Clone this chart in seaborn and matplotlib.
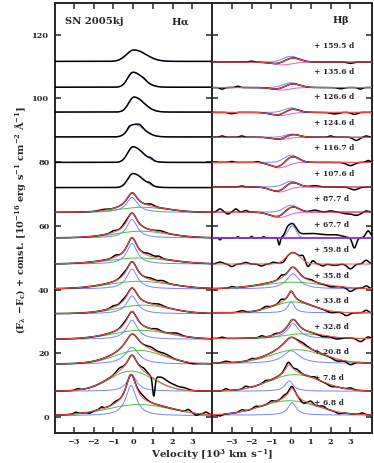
import numpy as np
import pandas as pd
import matplotlib
matplotlib.use("Agg")
import matplotlib.pyplot as plt
import seaborn as sns

# ---------------- data ----------------
epochs = ['+ 6.8 d', '+ 7.8 d', '+ 20.8 d', '+ 32.8 d', '+ 33.8 d', '+ 35.8 d',
          '+ 59.8 d', '+ 67.7 d', '+ 87.7 d', '+ 107.6 d', '+ 116.7 d',
          '+ 124.6 d', '+ 126.6 d', '+ 135.6 d', '+ 159.5 d']
offsets = [0, 8, 16, 24, 32, 40, 48, 56, 64, 72, 80, 88, 96, 104, 112]
ha_cont = [0.4, 8.1, 16.6, 24.4, 32.4, 40.2, 48.0, 56.2, 64.2, 72.0, 79.9, 87.9, 95.7, 103.5, 111.6]
hb_cont = [0.6, 8.1, 16.8, 24.6, 32.7, 40.2, 48.0, 56.2, 64.3, 72.2, 79.9, 87.8, 95.6, 103.4, 111.4]

# H-alpha narrow (blue) component: L = Lorentzian (HWHM), G = split Gaussian (sigma)
ha_nar_shape = ['L'] * 9 + ['G'] * 6
ha_nar_amp = [9.5, 5.0, 5.3, 6.0, 5.6, 6.2, 6.4, 5.8, 4.7, 4.4, 4.9, 3.9, 4.7, 4.7, 3.6]
ha_nar_cen = [-0.1, -0.05, -0.05, -0.05, -0.05, -0.05, -0.05, -0.05, -0.05, 0.0, 0.0, 0.05, 0.05, 0.0, 0.05]
ha_nar_wl = [0.32, 0.3, 0.42, 0.33, 0.33, 0.33, 0.32, 0.32, 0.34, 0.27, 0.27, 0.3, 0.27, 0.27, 0.38]
ha_nar_wr = [0.32, 0.3, 0.42, 0.33, 0.33, 0.33, 0.32, 0.32, 0.34, 0.5, 0.5, 0.5, 0.5, 0.5, 0.6]
# H-alpha broad (green) component
ha_brd_amp = [3.5, 6.3, 4.3, 2.8, 2.7, 2.4, 1.9, 2.1, 1.6, None, None, None, None, None, None]
ha_brd_cen = [0.3, -0.1, 0.3, 0.4, 0.5, 0.3, 0.3, 0.4, 0.5, 0, 0, 0, 0, 0, 0]
ha_brd_sig = [1.6, 1.1, 1.2, 1.4, 1.3, 1.5, 1.5, 1.3, 1.2, 1, 1, 1, 1, 1, 1]
# residual features of the observed H-alpha spectra (centre, amplitude, width)
ha_feat = [
    [(-2.9, 0.5, 0.08), (-2.2, -0.5, 0.1), (-1.6, 0.6, 0.08), (-0.9, 0.5, 0.12), (0.45, 0.8, 0.2),
     (2.8, 0.8, 0.1), (3.2, -0.6, 0.1), (3.7, 0.7, 0.1)],
    [(1.05, -6.0, 0.06), (1.45, 1.6, 0.25), (2.0, 1.0, 0.3), (2.6, 0.6, 0.2), (-2.8, 0.4, 0.1),
     (-0.7, 0.9, 0.15), (0.55, 0.9, 0.15)],
    [(0.9, 0.7, 0.2), (1.6, 0.6, 0.25), (3.0, -0.3, 0.2)],
    [(-0.45, 0.5, 0.15), (1.2, 0.5, 0.15), (2.2, 0.6, 0.2)],
    [(-1.0, 0.5, 0.12), (-0.5, 0.6, 0.15), (1.3, 0.5, 0.2)],
    [(-0.5, 0.6, 0.15), (0.9, 0.5, 0.2), (1.5, 0.6, 0.15)],
    [(-0.9, 0.6, 0.12), (0.8, 0.7, 0.2), (1.3, 0.6, 0.12)],
    [(-1.0, 0.5, 0.12), (-0.4, 0.6, 0.15), (1.4, 0.4, 0.2)],
    [(0.9, 0.6, 0.15), (-1.5, 0.3, 0.2)],
    [(0.85, 0.5, 0.1)],
    [(0.9, 0.5, 0.1)],
    [(-0.2, 0.5, 0.08), (0.35, 0.6, 0.12)],
    [],
    [(0.55, 0.3, 0.1)],
    [],
]

# H-beta narrow (blue) component
hb_nar_shape = ['L'] * 6 + [None] + ['G'] * 8
hb_nar_amp = [3.9, 3.2, 4.0, 4.7, 3.4, 4.7, None, 3.8, 2.2, 1.8, 2.3, 1.0, 1.4, 1.5, 1.8]
hb_nar_cen = [0.05, -0.1, 0.0, 0.1, 0.0, 0.1, 0.0, 0.05, 0.0, 0.0, 0.0, 0.05, 0.0, 0.0, 0.0]
hb_nar_w = [0.25, 0.25, 0.5, 0.35, 0.2, 0.4, 0.0, 0.2, 0.35, 0.35, 0.35, 0.35, 0.35, 0.4, 0.4]
# H-beta broad (green) component
hb_brd_amp = [4.5, 5.2, 4.3, 1.5, 3.4, 2.1] + [None] * 9
hb_brd_cen = [-0.1, 0.2, 0.3, 0.6, 0.1, 0.1] + [0] * 9
hb_brd_sig = [1.4, 1.3, 1.3, 1.0, 1.0, 1.5] + [1] * 9
# H-beta absorption (magenta) component
hb_abs_amp = [None] * 7 + [0.0, -1.7, -1.6, -1.7, -0.7, -1.0, -0.8, -0.9]
hb_abs_cen = [0] * 7 + [0.0, -0.6, -0.6, -0.6, -0.55, -0.55, -0.5, -0.45]
hb_abs_sig = [1] * 7 + [1.0, 0.45, 0.42, 0.42, 0.4, 0.45, 0.45, 0.5]
# single emission fitted at +59.8 d (red only)
hb_single = (3.6, 0.1, 0.35)
hb_feat = [
    [(-3.6, -0.5, 0.1), (-2.5, 0.6, 0.1), (-1.8, 0.5, 0.1), (-1.0, 0.6, 0.1), (-0.35, 0.7, 0.12),
     (0.0, 0.6, 0.12), (0.6, -0.8, 0.12), (1.0, 0.8, 0.1), (1.6, 0.6, 0.12), (2.4, -0.5, 0.12), (3.6, 0.5, 0.1)],
    [(-3.3, 0.6, 0.1), (-2.3, 0.7, 0.1), (-1.3, 0.5, 0.1), (-0.2, 1.0, 0.12), (0.3, 0.8, 0.12),
     (1.2, 0.5, 0.1), (2.0, -0.5, 0.15), (3.0, 0.5, 0.12)],
    [(-3.3, 0.5, 0.15), (-2.0, 0.4, 0.1), (0.6, 0.6, 0.2), (2.3, -0.7, 0.2), (3.0, -1.0, 0.15)],
    [(-3.5, 0.4, 0.1), (-1.5, 0.5, 0.1), (-0.8, 0.4, 0.1), (1.6, -0.5, 0.2), (2.3, -0.6, 0.2),
     (3.5, -1.0, 0.15), (3.9, 0.5, 0.1)],
    [(-2.5, 0.5, 0.15), (-1.3, 0.6, 0.12), (-0.5, 0.9, 0.1), (2.0, -0.5, 0.2), (2.8, -1.0, 0.15), (3.8, 0.8, 0.1)],
    [(-3.0, 0.4, 0.1), (-0.5, 0.9, 0.1), (1.0, 0.4, 0.15), (2.0, -0.5, 0.2), (3.0, -1.2, 0.15), (3.8, 0.8, 0.1)],
    [(-3.6, 0.6, 0.15), (-3.0, -0.8, 0.12), (-2.3, 0.5, 0.12), (-1.5, -0.6, 0.12), (-0.9, 0.5, 0.1),
     (-0.4, -0.7, 0.1), (0.6, 1.4, 0.1), (0.85, -1.2, 0.1), (1.1, 1.0, 0.1), (1.6, -0.6, 0.1),
     (2.2, -0.4, 0.2), (3.0, -1.5, 0.15), (3.8, 1.2, 0.12)],
    [(-3.6, -0.6, 0.05), (-2.7, 0.4, 0.05), (-2.0, 0.5, 0.05), (-1.4, 0.4, 0.05), (-0.6, -2.4, 0.05),
     (-0.2, 1.2, 0.1), (1.0, 1.4, 0.8), (2.3, 0.6, 0.3), (3.2, -3.2, 0.1), (3.9, 2.2, 0.12)],
    [(-3.6, 1.0, 0.12), (-3.2, -0.6, 0.1), (-2.8, 1.0, 0.1), (-2.3, 0.5, 0.1), (1.2, 0.6, 0.2),
     (2.0, 0.4, 0.15), (2.8, -0.5, 0.2), (3.3, -1.0, 0.2), (3.8, 0.4, 0.1)],
    [(-2.5, 0.3, 0.1), (1.2, 0.4, 0.2), (3.2, -0.9, 0.2)],
    [(-3.0, 0.3, 0.1), (-1.7, 0.3, 0.1), (3.0, -1.0, 0.2), (3.9, 0.6, 0.1)],
    [(-3.5, 0.4, 0.1), (-2.5, 0.4, 0.1), (2.0, 0.4, 0.1), (3.3, -1.0, 0.15), (3.8, 0.4, 0.1)],
    [(-3.0, -0.4, 0.15), (2.2, -0.5, 0.2), (3.2, -0.6, 0.15)],
    [(-3.5, -0.5, 0.1), (-2.7, 0.4, 0.1), (2.5, -0.4, 0.15), (3.5, -0.5, 0.1)],
    [(-2.0, 0.3, 0.1), (3.0, -0.4, 0.15)],
]

# ---------------- profile helpers ----------------
v = np.linspace(-4.3, 4.3, 700)

def lorentz(a, c, w):
    return a / (1.0 + ((v - c) / w) ** 2)

def gauss(a, c, s):
    return a * np.exp(-0.5 * ((v - c) / s) ** 2)

def split_gauss(a, c, sl, sr):
    s = np.where(v < c, sl, sr)
    return a * np.exp(-0.5 * ((v - c) / s) ** 2)

def features(lst):
    out = np.zeros_like(v)
    for c, a, s in lst:
        out += gauss(a, c, s)
    return out

C_BLUE = "#7585ff"
C_GREEN = "#4cc03f"
C_RED = "#ff5050"
C_MAG = "#e25ce2"
C_PURP = "#9a2fd6"

def line(ax, y, color, lw, z):
    sns.lineplot(x=v, y=y, ax=ax, color=color, lw=lw, estimator=None, sort=False,
                 legend=False, zorder=z)

# ---------------- figure ----------------
sns.set_theme(style="ticks")
plt.rcParams['font.family'] = ['DejaVu Serif']
plt.rcParams['font.weight'] = 'bold'
plt.rcParams['mathtext.fontset'] = 'dejavuserif'
plt.rcParams['mathtext.default'] = 'bf'

fig = plt.figure(figsize=(3.74, 4.63), dpi=100)
bot, hgt = 0.065, 0.929
axA = fig.add_axes([0.147, bot, 0.420, hgt])
axB = fig.add_axes([0.567, bot, 0.428, hgt])

for i in range(15):
    # H-alpha
    base = ha_cont[i]
    if ha_nar_shape[i] == 'L':
        nar = lorentz(ha_nar_amp[i], ha_nar_cen[i], ha_nar_wl[i])
    else:
        nar = split_gauss(ha_nar_amp[i], ha_nar_cen[i], ha_nar_wl[i], ha_nar_wr[i])
    model = base + nar
    line(axA, base + nar, C_BLUE, 0.7, 2)
    if ha_brd_amp[i] is not None:
        brd = gauss(ha_brd_amp[i], ha_brd_cen[i], ha_brd_sig[i])
        model = model + brd
        line(axA, base + brd, C_GREEN, 0.7, 2)
        line(axA, model, C_RED, 0.7, 4)
    line(axA, model + features(ha_feat[i]), "black", 1.1, 3)

    # H-beta
    base = hb_cont[i]
    model = np.full_like(v, base)
    if hb_nar_shape[i] == 'L':
        nar = lorentz(hb_nar_amp[i], hb_nar_cen[i], hb_nar_w[i])
        model = model + nar
        line(axB, base + nar, C_BLUE, 0.7, 2)
    elif hb_nar_shape[i] == 'G':
        nar = gauss(hb_nar_amp[i], hb_nar_cen[i], hb_nar_w[i])
        model = model + nar
        line(axB, base + nar, C_BLUE, 0.7, 2)
    else:
        a, c, s = hb_single
        model = model + gauss(a, c, s)
    if hb_brd_amp[i] is not None:
        brd = gauss(hb_brd_amp[i], hb_brd_cen[i], hb_brd_sig[i])
        model = model + brd
        line(axB, base + brd, C_GREEN, 0.7, 2)
    if hb_abs_amp[i] is not None:
        ab = gauss(hb_abs_amp[i], hb_abs_cen[i], hb_abs_sig[i])
        model = model + ab
        if hb_abs_amp[i] == 0.0:
            line(axB, base + ab, C_PURP, 1.3, 5)
        else:
            line(axB, base + ab, C_MAG, 0.7, 2)
    line(axB, model + features(hb_feat[i]), "black", 1.1, 3)
    if not (hb_abs_amp[i] == 0.0):
        line(axB, model, C_RED, 0.7, 4)
    axB.text(1.15, offsets[i] + 4.3, epochs[i], fontsize=5.4, fontweight='bold',
             ha='left', va='center', zorder=6)

tk = dict(fontsize=5.9, fontweight='bold')
for ax, xl in ((axA, (-3.95, 4.0)), (axB, (-4.0, 4.1))):
    ax.set_xlim(*xl)
    ax.set_ylim(-5, 130)
    ax.set_xticks([-3, -2, -1, 0, 1, 2, 3])
    ax.set_xticklabels(['\u22123', '\u22122', '\u22121', '0', '1', '2', '3'], **tk)
    ax.set_yticks([0, 20, 40, 60, 80, 100, 120])
    ax.tick_params(direction='in', top=True, right=True, length=4, width=1.1, pad=4)
    ax.set_xlabel('')
    ax.set_ylabel('')
    for sp in ax.spines.values():
        sp.set_linewidth(1.4)
        sp.set_visible(True)

axA.set_yticklabels(['0', '20', '40', '60', '80', '100', '120'], **tk)
axB.set_yticklabels([])

axA.text(-3.45, 124, 'SN 2005kj', fontsize=7.2, fontweight='bold', ha='left', va='center')
axA.text(1.9, 124, r'H$\alpha$', fontsize=7.2, fontweight='bold', ha='left', va='center')
axB.text(2.05, 124.5, r'H$\beta$', fontsize=7.2, fontweight='bold', ha='left', va='center')

fig.text(0.567, 0.018, r'Velocity [10$^{3}$ km s$^{-1}$]', fontsize=7.4, fontweight='bold',
         ha='center', va='center')
fig.text(0.055, 0.525,
         r'(F$_{\lambda}$ $-$F$_{c}$) + const. [10$^{-16}$ erg s$^{-1}$ cm$^{-2}$ $\mathrm{\AA}^{-1}$]',
         fontsize=7.0, fontweight='bold', rotation=90, ha='center', va='center')

fig.savefig('out.png', dpi=100)
